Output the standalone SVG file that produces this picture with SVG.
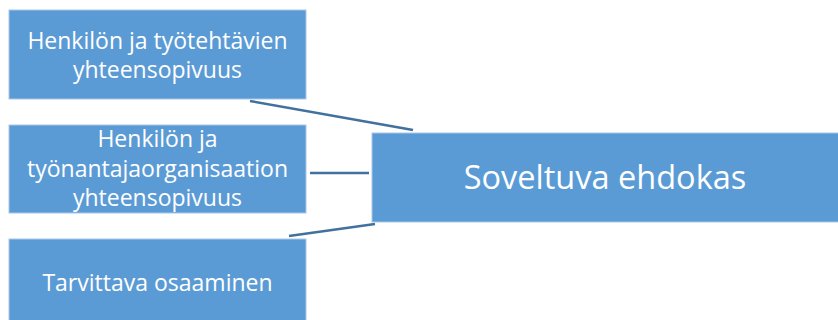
<svg xmlns="http://www.w3.org/2000/svg" width="838" height="320" viewBox="0 0 838 320">
  <style>
    .box { fill: #5b9bd5; stroke: #a9c8e8; stroke-width: 1; }
    .lbl { fill: #ffffff; font-family: "Open Sans", "Liberation Sans", sans-serif; font-size: 23px; text-anchor: middle; }
    .big { font-size: 32.5px; }
    .conn { stroke: #41719c; stroke-width: 2.5; fill: none; }
  </style>
  <rect width="838" height="320" fill="#ffffff"/>
  <g id="connectors">
    <line class="conn" x1="250" y1="101" x2="413" y2="130"/>
    <line class="conn" x1="310" y1="173" x2="369" y2="173"/>
    <line class="conn" x1="289" y1="236" x2="375" y2="224"/>
  </g>
  <g id="n1">
    <rect class="box" x="9" y="10" width="297" height="89"/>
    <text class="lbl" x="157.5" y="49">Henkilön ja työtehtävien</text>
    <text class="lbl" x="157.5" y="78">yhteensopivuus</text>
  </g>
  <g id="n2">
    <rect class="box" x="9" y="125" width="297" height="88"/>
    <text class="lbl" x="157.5" y="147">Henkilön ja</text>
    <text class="lbl" x="157.5" y="177">työnantajaorganisaation</text>
    <text class="lbl" x="157.5" y="206">yhteensopivuus</text>
  </g>
  <g id="n3">
    <rect class="box" x="9" y="239" width="297" height="90"/>
    <text class="lbl" x="157.5" y="291">Tarvittava osaaminen</text>
  </g>
  <g id="n4">
    <rect class="box" x="372" y="133" width="470" height="89"/>
    <text class="lbl big" x="605" y="189">Soveltuva ehdokas</text>
  </g>
</svg>
